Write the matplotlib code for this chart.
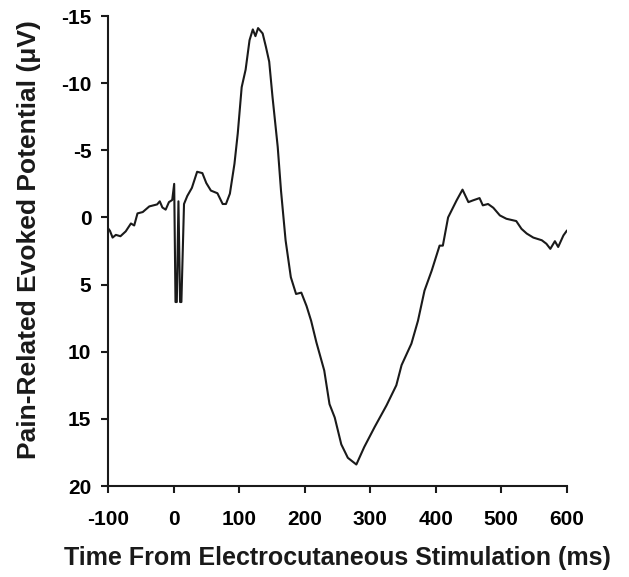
import matplotlib
matplotlib.use("Agg")
import matplotlib.pyplot as plt

# Time (ms) and amplitude (µV)
time_ms = [-100, -97, -93, -88, -81, -73, -65, -60, -55, -47, -37, -25, -21, -17, -12,
           -7, -2, 1, 3, 5, 7.5, 10, 12, 16, 21, 28, 36, 44, 50, 57, 67, 75, 80, 86,
           93, 98, 104, 110, 116, 121, 125, 129, 136, 141, 146, 151, 159, 164, 171,
           179, 187, 195, 203, 210, 218, 230, 238, 246, 256, 266, 279, 291, 307, 325,
           340, 348, 363, 373, 383, 394, 406, 411, 419, 432, 441, 450, 457, 467, 472,
           480, 488, 498, 508, 523, 531, 539, 549, 562, 569, 575, 582, 587, 595, 600]
amplitude_uv = [0.8, 1.0, 1.5, 1.3, 1.4, 1.04, 0.45, 0.6, -0.3, -0.4, -0.82, -0.97, -1.2, -0.74, -0.58,
                -1.14, -1.3, -2.5, 6.3, 6.3, -1.2, 6.3, 6.3, -1.0, -1.6, -2.2, -3.4, -3.3, -2.56, -2.0, -1.8, -1.0, -1.0, -1.77,
                -4.0, -6.25, -9.7, -11.0, -13.2, -14.0, -13.5, -14.1, -13.7, -12.7, -11.6, -9.0, -5.25, -2.0, 1.7,
                4.45, 5.7, 5.6, 6.6, 7.7, 9.3, 11.4, 13.9, 14.9, 16.9, 17.9, 18.4, 17.1, 15.6, 14.0,
                12.5, 11.0, 9.4, 7.7, 5.45, 3.96, 2.1, 2.1, 0.0, -1.27, -2.07, -1.14, -1.27, -1.44, -0.9,
                -1.0, -0.72, -0.15, 0.1, 0.27, 0.85, 1.2, 1.5, 1.7, 1.96, 2.34, 1.77, 2.2, 1.34, 1.0]
assert len(time_ms) == len(amplitude_uv)

x_ticks = [-100, 0, 100, 200, 300, 400, 500, 600]
y_ticks = [-15, -10, -5, 0, 5, 10, 15, 20]
x_label = "Time From Electrocutaneous Stimulation (ms)"
y_label = "Pain-Related Evoked Potential (\u03bcV)"

plt.rcParams['font.family'] = ['Liberation Sans', 'DejaVu Sans']

fig = plt.figure(figsize=(6.29, 5.77), dpi=100)
ax = fig.add_axes([108 / 629, 1 - 486 / 577, (566.7 - 108) / 629, (486 - 16) / 577])

ax.plot(time_ms, amplitude_uv, color='#1a1a1a', lw=1.5, solid_joinstyle='round')

ax.set_xlim(-100, 600)
ax.set_ylim(20, -15)
ax.set_xticks(x_ticks)
ax.set_yticks(y_ticks)
ax.set_xticklabels([str(v) for v in x_ticks], fontsize=15, fontweight='bold')
ax.set_yticklabels([str(v) for v in y_ticks], fontsize=15, fontweight='bold')

for s in ['top', 'right']:
    ax.spines[s].set_visible(False)
for s in ['left', 'bottom']:
    ax.spines[s].set_linewidth(1.5)
    ax.spines[s].set_color('#1a1a1a')

ax.tick_params(axis='both', direction='out', length=5, width=1.5, color='#1a1a1a')
ax.tick_params(axis='x', pad=12)
ax.tick_params(axis='y', pad=7)

ax.set_xlabel(x_label, fontsize=18, fontweight='bold', color='#1a1a1a')
ax.set_ylabel(y_label, fontsize=19, fontweight='bold', color='#1a1a1a')
ax.xaxis.set_label_coords(0.5, (486 - 546) / 470)
ax.yaxis.set_label_coords((41 - 108) / 458.7, (486 - 240) / 470)

fig.savefig("out.png", dpi=100)
